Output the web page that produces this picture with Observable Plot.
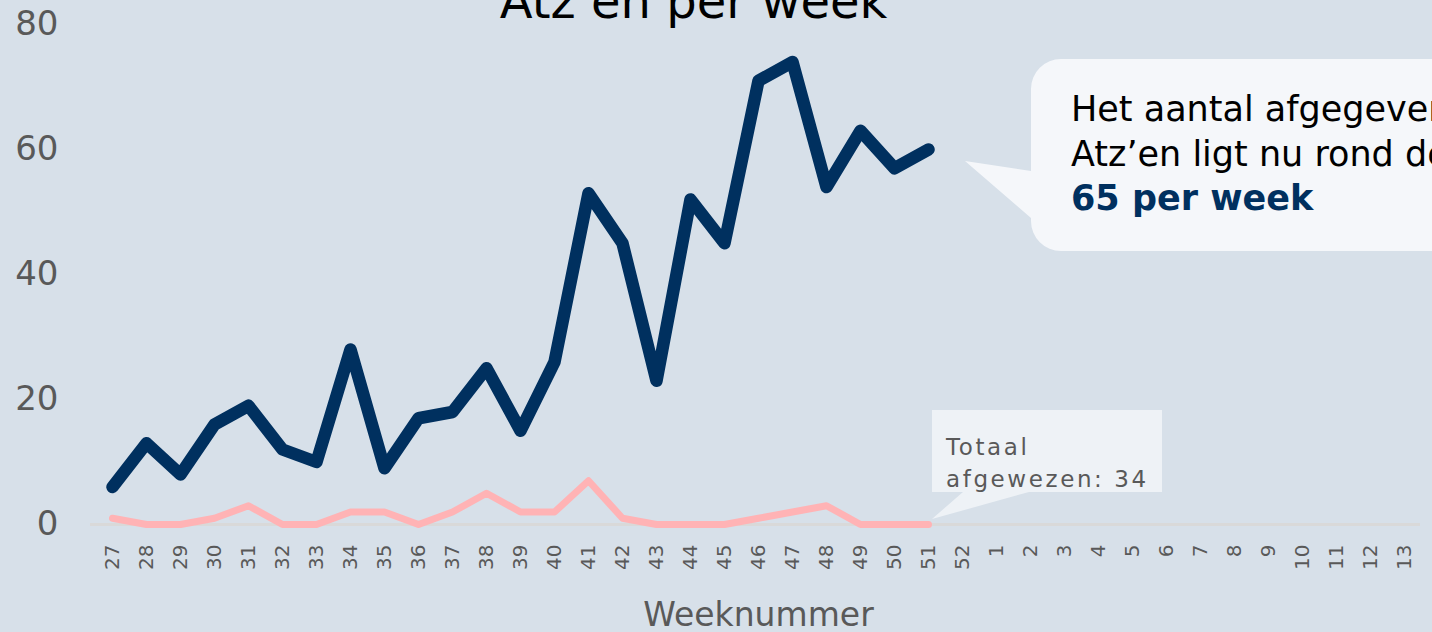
<!DOCTYPE html>
<html>
<head>
<meta charset="utf-8">
<script src="https://cdn.jsdelivr.net/npm/d3@7"></script>
<script src="https://cdn.jsdelivr.net/npm/@observablehq/plot@0.6"></script>
<style>
  html, body { margin: 0; padding: 0; background: #d7e0e9; overflow: hidden; }
  svg { display: block; }
</style>
</head>
<body>
<div id="chart"></div>
<script>
const weeks = ["27","28","29","30","31","32","33","34","35","36","37","38","39","40","41","42","43","44","45","46","47","48","49","50","51","52","1","2","3","4","5","6","7","8","9","10","11","12","13"];
const dataWeeks = ["27","28","29","30","31","32","33","34","35","36","37","38","39","40","41","42","43","44","45","46","47","48","49","50","51"];
const afgegeven = [6,13,8,16,19,12,10,28,9,17,18,25,15,26,53,45,23,52,45,71,74,54,63,57,60];
const afgewezen = [1,0,0,1,3,0,0,2,2,0,2,5,2,2,7,1,0,0,0,1,2,3,0,0,0];
const yTicks = [0,20,40,60,80];
const title = "Atz\u2019en per week";
const xLabel = "Weeknummer";
const callout1 = ["Het aantal afgegeven", "Atz\u2019en ligt nu rond de", "65 per week"];
const callout2 = ["Totaal", "afgewezen: 34"];

const rowsA = dataWeeks.map((w, i) => ({week: w, value: afgegeven[i]}));
const rowsB = dataWeeks.map((w, i) => ({week: w, value: afgewezen[i]}));

const font = "'DejaVu Sans', Verdana, sans-serif";

const svg = Plot.plot({
  width: 1432,
  height: 632,
  marginLeft: 111,
  marginRight: 27,
  marginTop: 24,
  marginBottom: 108,
  style: {background: "transparent", fontFamily: font, color: "#595959", overflow: "visible"},
  x: {type: "point", domain: weeks, padding: 0, label: null},
  y: {domain: [0, 80], label: null},
  marks: [
    Plot.ruleY([0], {stroke: "#d9d9d9", strokeWidth: 3, insetLeft: -21, insetRight: -15}),
    Plot.axisY({ticks: yTicks, tickSize: 0, tickPadding: 53, fontSize: 34, label: null}),
    Plot.axisX({tickRotate: -90, tickSize: 0, tickPadding: 20, fontSize: 20, label: null}),
    Plot.text([xLabel], {frameAnchor: "bottom", lineAnchor: "bottom", dy: 101, fontSize: 33, fill: "#595959"}),
    Plot.text([title], {frameAnchor: "top", lineAnchor: "bottom", dx: -65, dy: -7, fontSize: 48, fill: "#000000"}),
    Plot.line(rowsB, {x: "week", y: "value", stroke: "#ffb3b5", strokeWidth: 7, strokeLinejoin: "round", strokeLinecap: "round"}),
    Plot.line(rowsA, {x: "week", y: "value", stroke: "#00305f", strokeWidth: 12.5, strokeLinejoin: "round", strokeLinecap: "round"})
  ]
});

document.getElementById("chart").appendChild(svg);

// Annotations
const s = d3.select(svg);
const g = s.append("g").attr("font-family", font).attr("text-anchor", "start");

// speech bubble 1
const bx = 1031, by = 59, bw = 460, bh = 192, r = 30;
g.append("path")
  .attr("fill", "#f5f7fa")
  .attr("d", `M${bx + r},${by} H${bx + bw} V${by + bh} H${bx + r} A${r},${r} 0 0 1 ${bx},${by + bh - r} V218 L965,161 L${bx},171 V${by + r} A${r},${r} 0 0 1 ${bx + r},${by} Z`);
const t1 = g.append("g").attr("font-size", 35);
t1.append("text").attr("x", 1071).attr("y", 121).attr("fill", "#000").text(callout1[0]);
t1.append("text").attr("x", 1071).attr("y", 166).attr("fill", "#000").text(callout1[1]);
t1.append("text").attr("x", 1071).attr("y", 210).attr("fill", "#00305f").attr("font-weight", "bold").text(callout1[2]);

// callout 2
g.append("path")
  .attr("fill", "#eef2f6")
  .attr("d", "M932,410 H1162 V492 H1029 L932,519 L963,492 H932 Z");
const t2 = g.append("g").attr("font-size", 23).attr("fill", "#595959").attr("letter-spacing", "2.6px");
t2.append("text").attr("x", 946).attr("y", 455).text(callout2[0]);
t2.append("text").attr("x", 946).attr("y", 487).text(callout2[1]);
</script>
</body>
</html>
